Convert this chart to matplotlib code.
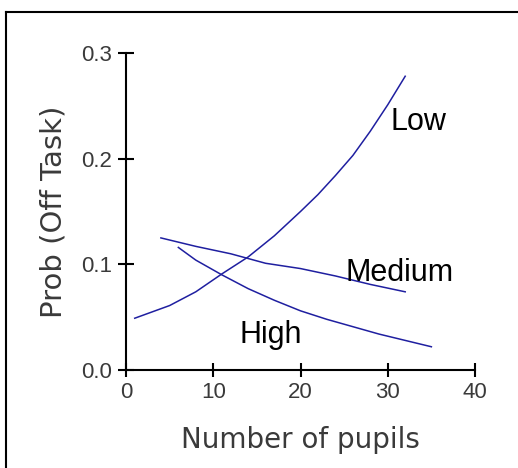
import matplotlib.pyplot as plt
from matplotlib.lines import Line2D

# values
low_x = [1, 3, 5, 8, 11, 14, 17, 20, 22, 24, 26, 28, 30, 32]
low_y = [0.049, 0.055, 0.061, 0.074, 0.091, 0.107, 0.127, 0.150, 0.166, 0.184, 0.203, 0.226, 0.251, 0.278]

med_x = [4, 8, 12, 16, 20, 24, 28, 32]
med_y = [0.125, 0.117, 0.110, 0.101, 0.096, 0.089, 0.081, 0.074]

high_x = [6, 8, 11, 14, 17, 20, 23, 26, 29, 32, 35]
high_y = [0.116, 0.104, 0.090, 0.077, 0.066, 0.056, 0.048, 0.041, 0.034, 0.028, 0.022]

xticks = [0, 10, 20, 30, 40]
yticks = [0.0, 0.1, 0.2, 0.3]

line_col = '#1f1fa0'
grey = '#3a3a3a'

fig = plt.figure(figsize=(5.18, 4.68), dpi=100)
ax = fig.add_axes([126 / 518, 98 / 468, 349 / 518, 317 / 468])

ax.plot(low_x, low_y, color=line_col, lw=1.1)
ax.plot(med_x, med_y, color=line_col, lw=1.1)
ax.plot(high_x, high_y, color=line_col, lw=1.1)

ax.text(33.5, 0.235, 'Low', fontsize=22, family='Liberation Sans', ha='center', va='center')
ax.text(31.4, 0.092, 'Medium', fontsize=22, family='Liberation Sans', ha='center', va='center')
ax.text(16.6, 0.033, 'High', fontsize=22, family='Liberation Sans', ha='center', va='center')

ax.set_xlim(0, 40)
ax.set_ylim(0, 0.3)
ax.set_xticks(xticks)
ax.set_yticks(yticks)
ax.set_xticklabels([str(t) for t in xticks], family='Liberation Sans')
ax.set_yticklabels(['%.1f' % t for t in yticks], family='Liberation Sans')
ax.tick_params(direction='inout', length=10, width=1.5, labelsize=16,
               labelcolor=grey, color='black', pad=4)
ax.tick_params(axis='y', length=12)

for s in ['top', 'right']:
    ax.spines[s].set_visible(False)
for s in ['left', 'bottom']:
    ax.spines[s].set_linewidth(1.5)
ax.spines['bottom'].set_bounds(0, 40)

ax.set_xlabel('Number of pupils', fontsize=20, color=grey, labelpad=16)
ax.set_ylabel('Prob (Off Task)', fontsize=21, color=grey, labelpad=10)

# outer frame (top and left edges visible)
fig.add_artist(Line2D([6 / 518, 1.0], [1 - 12 / 468, 1 - 12 / 468], color='black', lw=1.5))
fig.add_artist(Line2D([6 / 518, 6 / 518], [0, 1 - 12 / 468], color='black', lw=1.5))

fig.savefig('out.png', dpi=100)
